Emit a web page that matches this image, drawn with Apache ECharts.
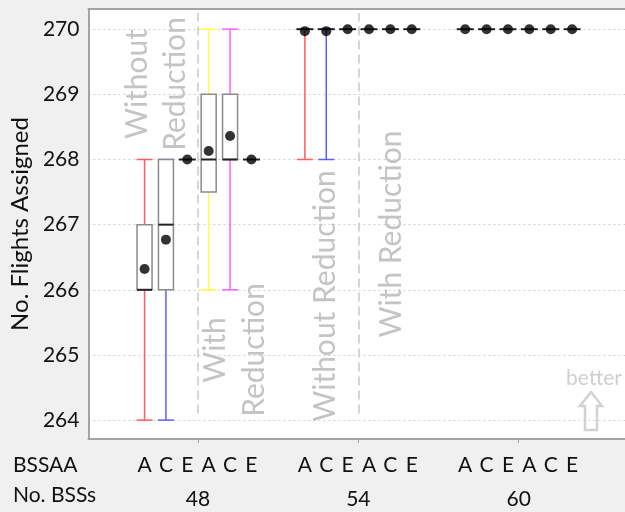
<!DOCTYPE html>
<html>
<head>
<meta charset="utf-8">
<script src="https://cdn.jsdelivr.net/npm/echarts@6/dist/echarts.min.js"></script>
<style>
html,body{margin:0;padding:0;background:#f0f0f0;overflow:hidden;}
#chart{width:625px;height:512px;}
</style>
</head>
<body>
<div id="chart"></div>
<script>
// ---- data ----
const bssValues = [48, 54, 60];
const bssaaLabels = ['A', 'C', 'E', 'A', 'C', 'E'];
const yTicks = [264, 265, 266, 267, 268, 269, 270];
// [min, q1, median, q3, max] for A, C, E (without reduction), A, C, E (with reduction)
const stats48 = [
  [264, 266, 266, 267, 268],
  [264, 266, 267, 268, 268],
  [268, 268, 268, 268, 268],
  [266, 267.5, 268, 269, 270],
  [266, 268, 268, 269, 270],
  [268, 268, 268, 268, 268]
];
const stats54 = [
  [268, 270, 270, 270, 270],
  [268, 270, 270, 270, 270],
  [270, 270, 270, 270, 270],
  [270, 270, 270, 270, 270],
  [270, 270, 270, 270, 270],
  [270, 270, 270, 270, 270]
];
const stats60 = [
  [270, 270, 270, 270, 270],
  [270, 270, 270, 270, 270],
  [270, 270, 270, 270, 270],
  [270, 270, 270, 270, 270],
  [270, 270, 270, 270, 270],
  [270, 270, 270, 270, 270]
];
const means48 = [266.32, 266.77, 268, 268.13, 268.36, 268];
const means54 = [269.97, 269.97, 270, 270, 270, 270];
const means60 = [270, 270, 270, 270, 270, 270];

// ---- styling ----
const whiskerColors = ['#ff5c5c', '#5c5cff', null, '#ffff4a', '#ff5cff', null];
const FONT = 'Lato, "Open Sans", sans-serif';
const slotStep = 0.8;
const X_MIN = 43.9, X_MAX = 63.98;
const allStats = [stats48, stats54, stats60];
const allMeans = [means48, means54, means60];

const boxData = [];
const meanData = [];
const labelPositions = [];
const labelMap = {};
bssValues.forEach((b, g) => {
  bssaaLabels.forEach((lab, i) => {
    const x = b + (i - 2.5) * slotStep;
    const s = allStats[g][i];
    boxData.push([x, s[0], s[1], s[2], s[3], s[4], i]);
    meanData.push([x, allMeans[g][i]]);
    labelPositions.push(x);
    labelMap[x.toFixed(2)] = lab;
  });
});

const chart = echarts.init(document.getElementById('chart'), null, {renderer: 'canvas'});

function renderBox(params, api) {
  const x = api.value(0);
  const mn = api.value(1), q1 = api.value(2), md = api.value(3), q3 = api.value(4), mx = api.value(5);
  const slot = api.value(6);
  const color = whiskerColors[slot];
  const P = v => api.coord([x, v]);
  const cx = P(md)[0];
  const children = [];
  const hw = 8;
  if (color && mx > mn) {
    children.push({type: 'line', shape: {x1: cx, y1: P(mn)[1], x2: cx, y2: P(mx)[1]}, style: {stroke: color, lineWidth: 1.5}});
    children.push({type: 'line', shape: {x1: cx - hw, y1: P(mn)[1], x2: cx + hw, y2: P(mn)[1]}, style: {stroke: color, lineWidth: 1.5}});
    children.push({type: 'line', shape: {x1: cx - hw, y1: P(mx)[1], x2: cx + hw, y2: P(mx)[1]}, style: {stroke: color, lineWidth: 1.5}});
  }
  if (q3 > q1) {
    const yt = P(q3)[1], yb = P(q1)[1];
    children.push({type: 'rect', shape: {x: cx - 7.5, y: yt, width: 15, height: yb - yt}, style: {fill: '#fff', stroke: '#8a8a8a', lineWidth: 1.5}});
  }
  const mw = (q3 > q1) ? 7.5 : 8.5;
  children.push({type: 'line', shape: {x1: cx - mw, y1: P(md)[1], x2: cx + mw, y2: P(md)[1]}, style: {stroke: '#222', lineWidth: 2}});
  return {type: 'group', children};
}

const grayText = '#c4c4c4';
const borderColor = '#a3a3a3';
const option = {
  backgroundColor: '#f0f0f0',
  animation: false,
  grid: {left: 87, right: 0, top: 9, bottom: 73, show: true, backgroundColor: '#ffffff', borderWidth: 0},
  xAxis: [{
    type: 'value', min: X_MIN, max: X_MAX, position: 'bottom',
    axisLine: {show: true, lineStyle: {color: borderColor, width: 2}},
    axisTick: {show: true, customValues: bssValues, length: 4, lineStyle: {color: borderColor}},
    splitLine: {show: false},
    axisLabel: {customValues: labelPositions, formatter: v => labelMap[Number(v).toFixed(2)] || '', color: '#111', fontFamily: FONT, fontSize: 21, margin: 16}
  }, {
    type: 'value', min: X_MIN, max: X_MAX, position: 'bottom', offset: 38,
    axisLine: {show: false}, axisTick: {show: false}, splitLine: {show: false},
    axisLabel: {customValues: bssValues, color: '#111', fontFamily: FONT, fontSize: 21, margin: 12}
  }, {
    type: 'value', min: X_MIN, max: X_MAX, position: 'top',
    axisLine: {show: true, onZero: false, lineStyle: {color: borderColor, width: 2}},
    axisTick: {show: false}, splitLine: {show: false}, axisLabel: {show: false}
  }],
  yAxis: {
    type: 'value', min: 263.71, max: 270.31,
    name: 'No. Flights Assigned', nameLocation: 'middle', nameGap: 44,
    nameTextStyle: {color: '#111', fontFamily: FONT, fontSize: 24},
    axisLine: {show: true, lineStyle: {color: borderColor, width: 2}},
    axisTick: {show: false, customValues: yTicks},
    axisLabel: {customValues: yTicks, color: '#111', fontFamily: FONT, fontSize: 21, margin: 9},
    splitLine: {show: true, lineStyle: {color: '#cfcfcf', type: [2, 3], width: 1}}
  },
  series: [{
    type: 'custom', renderItem: renderBox, data: boxData, encode: {x: 0, y: [1, 5]}, z: 3,
    markLine: {
      silent: true, symbol: 'none', label: {show: false},
      lineStyle: {color: '#c8c8c8', type: [9, 5], width: 1.5},
      data: [
        [{coord: [bssValues[0], 264.1]}, {coord: [bssValues[0], 270.25]}],
        [{coord: [bssValues[1], 264.1]}, {coord: [bssValues[1], 270.25]}]
      ]
    }
  }, {
    type: 'scatter', data: meanData, symbol: 'circle', symbolSize: 10, itemStyle: {color: '#000'}, z: 4
  }],
  graphic: [
    {type: 'text', x: 156, y: 84, rotation: Math.PI / 2, z: 1, style: {text: 'Without\nReduction', fill: grayText, font: '30px ' + FONT, align: 'center', verticalAlign: 'middle', lineHeight: 38}},
    {type: 'text', x: 235, y: 350, rotation: Math.PI / 2, z: 1, style: {text: 'With\nReduction', fill: grayText, font: '30px ' + FONT, align: 'center', verticalAlign: 'middle', lineHeight: 39}},
    {type: 'text', x: 325, y: 296, rotation: Math.PI / 2, z: 1, style: {text: 'Without Reduction', fill: grayText, font: '30px ' + FONT, align: 'center', verticalAlign: 'middle'}},
    {type: 'text', x: 391, y: 234, rotation: Math.PI / 2, z: 1, style: {text: 'With Reduction', fill: grayText, font: '30px ' + FONT, align: 'center', verticalAlign: 'middle'}},
    {type: 'text', x: 594, y: 378, style: {text: 'better', fill: '#d0d0d0', font: '21px ' + FONT, align: 'center', verticalAlign: 'middle'}},
    {type: 'polygon', shape: {points: [[591, 392], [602, 406], [597, 406], [597, 430], [585, 430], [585, 406], [580, 406]]}, style: {fill: 'none', stroke: '#d2d2d2', lineWidth: 2.5}},
    {type: 'text', x: 13, y: 465, style: {text: 'BSSAA', fill: '#111', font: '21px ' + FONT, align: 'left', verticalAlign: 'middle'}},
    {type: 'text', x: 13, y: 495, style: {text: 'No. BSSs', fill: '#111', font: '21px ' + FONT, align: 'left', verticalAlign: 'middle'}}
  ]
};
chart.setOption(option);
</script>
</body>
</html>
